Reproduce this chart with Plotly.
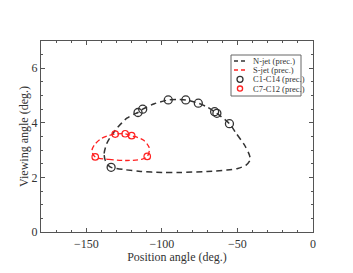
import plotly.graph_objects as go

# N-jet precession path
njet_x = [-137.5, -138.2, -136.4, -133.1, -129.8, -126.5, -123.2, -118.5, -115.8, -112.7,
          -105.0, -95.8, -90.0, -84.2, -75.9, -70.0, -65.1, -63.6, -55.3, -50.9,
          -45.4, -42.1, -41.6, -44.3, -49.8, -57.0, -70.0, -88.0, -100.0, -114.0,
          -124.0, -130.0, -133.6, -135.5, -137.5]
njet_y = [2.63, 2.88, 3.25, 3.56, 3.80, 4.00, 4.17, 4.32, 4.38, 4.50,
          4.70, 4.84, 4.86, 4.84, 4.72, 4.58, 4.41, 4.35, 3.97, 3.62,
          3.19, 2.82, 2.64, 2.45, 2.33, 2.27, 2.22, 2.18, 2.18, 2.22,
          2.28, 2.33, 2.37, 2.45, 2.63]

# S-jet path
sjet_x = [-144.1, -135.0, -123.2, -113.0, -109.7, -108.3, -112.3, -120.0, -124.3, -130.9,
          -136.0, -140.8, -144.5, -146.3, -144.1]
sjet_y = [2.75, 2.66, 2.62, 2.67, 2.77, 3.07, 3.37, 3.53, 3.60, 3.59,
          3.52, 3.40, 3.20, 2.98, 2.75]

# Components
c1_c14_x = [-133.6, -115.8, -112.7, -95.8, -84.2, -75.9, -65.1, -63.6, -55.3]
c1_c14_y = [2.37, 4.38, 4.50, 4.84, 4.84, 4.72, 4.41, 4.35, 3.97]
c7_c12_x = [-144.1, -130.9, -124.3, -120.0, -109.7]
c7_c12_y = [2.75, 3.59, 3.60, 3.53, 2.77]

legend_labels = ["N-jet (prec.)", "S-jet (prec.)", "C1-C14 (prec.)", "C7-C12 (prec.)"]

BLACK = "#333333"
RED = "#ff2020"
FONT = "Liberation Serif"

fig = go.Figure()
fig.add_trace(go.Scatter(x=njet_x, y=njet_y, mode="lines", name=legend_labels[0],
                         line=dict(color=BLACK, width=1.5, dash="6px,4px", shape="spline", smoothing=0.8)))
fig.add_trace(go.Scatter(x=sjet_x, y=sjet_y, mode="lines", name=legend_labels[1],
                         line=dict(color=RED, width=1.3, dash="5px,3px", shape="spline", smoothing=0.9)))
fig.add_trace(go.Scatter(x=c1_c14_x, y=c1_c14_y, mode="markers", name=legend_labels[2],
                         marker=dict(symbol="circle-open", size=8, color=BLACK, line=dict(width=1.3, color=BLACK))))
fig.add_trace(go.Scatter(x=c7_c12_x, y=c7_c12_y, mode="markers", name=legend_labels[3],
                         marker=dict(symbol="circle-open", size=6.5, color=RED, line=dict(width=1.2, color=RED))))

# Page has an 8px body margin; compensate so the plot area lands at the reference pixels
OFF = 8
W, H = 353 - OFF, 273 - OFF
ml, mr, mt, mb = 41 - OFF, 40, 41 - OFF, 41
pw, ph = W - ml - mr, H - mt - mb

def px2paper(x, y):
    # x, y are window pixel coordinates
    return (x - OFF - ml) / pw, 1 - (y - OFF - mt) / ph

shapes = []
annotations = []
lx0, lx1, ly0, ly1 = 231, 301, 55, 96
bx0, by0 = px2paper(lx0, ly1)
bx1, by1 = px2paper(lx1, ly0)
shapes.append(dict(type="rect", xref="paper", yref="paper", x0=bx0, y0=by0, x1=bx1, y1=by1,
                   line=dict(color="#666666", width=1), fillcolor="white", layer="above"))
rows = [61, 70, 79.3, 88.6]
styles = [("line", BLACK), ("line", RED), ("circle", BLACK), ("circle", RED)]
for (kind, col), ry, lab in zip(styles, rows, legend_labels):
    if kind == "line":
        xa, ya = px2paper(234, ry)
        xb, _ = px2paper(248, ry)
        shapes.append(dict(type="line", xref="paper", yref="paper", x0=xa, y0=ya, x1=xb, y1=ya,
                           line=dict(color=col, width=1.5, dash="4px,3px"), layer="above"))
    else:
        xc, yc = px2paper(240, ry)
        r = 3 if col == BLACK else 2.6
        shapes.append(dict(type="circle", xref="paper", yref="paper", xsizemode="pixel", ysizemode="pixel",
                           xanchor=xc, yanchor=yc, x0=-r, x1=r, y0=-r, y1=r,
                           line=dict(color=col, width=1.3), layer="above"))
    tx, ty = px2paper(251, ry)
    annotations.append(dict(text=lab, xref="paper", yref="paper", x=tx, y=ty, xanchor="left", yanchor="middle",
                            showarrow=False, font=dict(family=FONT, size=8.5, color="#333333")))

axis_common = dict(showgrid=False, zeroline=False, showline=True, linecolor="#555555", linewidth=1.2,
                   mirror="allticks", ticks="inside", ticklen=4, tickcolor="#555555",
                   tickfont=dict(family=FONT, size=12, color="#333333"))

fig.update_layout(
    width=W, height=H, margin=dict(l=ml, r=mr, t=mt, b=mb),
    paper_bgcolor="white", plot_bgcolor="white", showlegend=False,
    shapes=shapes, annotations=annotations,
    xaxis=dict(range=[-180, 0], tickvals=[-150, -100, -50, 0],
               minor=dict(dtick=10, tick0=0, ticks="inside", ticklen=2, tickcolor="#555555"),
               title=dict(text="Position angle (deg.)", font=dict(family=FONT, size=12, color="#333333"), standoff=0),
               **axis_common),
    yaxis=dict(range=[0, 7], tickvals=[0, 2, 4, 6],
               minor=dict(dtick=0.5, tick0=0, ticks="inside", ticklen=2, tickcolor="#555555"),
               title=dict(text="Viewing angle (deg.)", font=dict(family=FONT, size=12, color="#333333"), standoff=0),
               **axis_common),
)
fig.write_html("out.html")
